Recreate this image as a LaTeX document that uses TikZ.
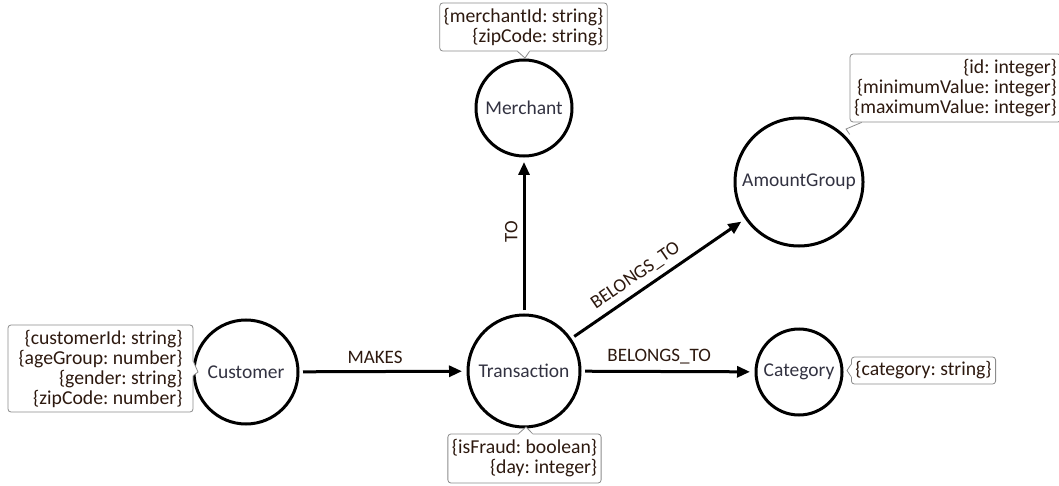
\documentclass[tikz,border=0pt]{standalone}
\usepackage{fontspec}
\setmainfont{Carlito}
\usetikzlibrary{arrows.meta}
\definecolor{proptext}{RGB}{45,25,15}
\definecolor{nodetext}{RGB}{50,50,65}
\definecolor{boxline}{RGB}{140,140,140}
\begin{document}
\frenchspacing
\begin{tikzpicture}[x=1pt,y=-1pt,
  entity/.style={circle, draw=black, line width=3pt, minimum size=#1, inner sep=0pt, outer sep=0pt,
    text=nodetext, font=\fontsize{19.5}{20}\selectfont},
  propbox/.style={draw=boxline, line width=0.8pt, rounded corners=3pt, fill=white, align=right,
    inner xsep=4pt, inner ysep=0pt, text=proptext, font=\fontsize{19.7}{20}\selectfont},
  edge/.style={line width=3pt, -{Triangle[length=13pt,width=11pt]}, shorten <=5pt, shorten >=6pt},
  elabel/.style={text=proptext, font=\fontsize{19}{20}\selectfont, inner sep=1pt},
  pointer/.style={draw=boxline, line width=0.8pt}
]
\useasboundingbox (0,0) rectangle (1059,486);

% entities
\node[entity=96pt]  (m) at (524,108) {Merchant};
\node[entity=128pt] (a) at (799,182) {AmountGroup};
\node[entity=104pt] (c) at (246,372) {Customer};
\node[entity=112pt] (t) at (524,371) {Transaction};
\node[entity=86pt]  (k) at (799,372) {Category};

% edges
\draw[edge] (c) -- (t) node[elabel, midway, above=5pt, xshift=-8pt] {MAKES};
\draw[edge] (t) -- (k) node[elabel, pos=0.45, above=5pt] {BELONGS\_TO};
\draw[edge] (t) -- (m) node[elabel, midway, sloped, above=4pt, xshift=4pt] {TO};
\draw[edge] (t) -- (a) node[elabel, pos=0.42, sloped, above=5pt] {BELONGS\_TO};

% property boxes
\node[propbox, minimum width=167pt, minimum height=48pt] (mb) at (523.5,27) {\{merchantId: string\}\\\{zipCode: string\}};
\node[propbox, minimum width=205pt, minimum height=68pt] (ab) at (955.5,88) {\{id: integer\}\\\{minimumValue: integer\}\\\{maximumValue: integer\}};
\node[propbox, minimum width=185pt, minimum height=87pt] (cb) at (100.5,368.5) {\{customerId: string\}\\\{ageGroup: number\}\\\{gender: string\}\\\{zipCode: number\}};
\node[propbox, minimum width=153pt, minimum height=49pt] (tb) at (524.5,458.5) {\{isFraud: boolean\}\\\{day: integer\}};
\node[propbox, minimum width=143pt, minimum height=27pt] (kb) at (923.5,370.5) {\{category: string\}};

% callout pointers
\coordinate (mtip) at (525,58);
\fill[white] ([xshift=-6pt,yshift=1.2pt]mb.south) -- ([xshift=-6pt]mb.south) -- (mtip) -- ([xshift=6pt]mb.south) -- ([xshift=6pt,yshift=1.2pt]mb.south) -- cycle;
\draw[pointer] ([xshift=-6pt]mb.south) -- (mtip) -- ([xshift=6pt]mb.south);

\coordinate (atip) at (846,129);
\fill[white] ([xshift=1.5pt,yshift=-12pt]ab.south west) -- ([yshift=-12pt]ab.south west) -- (atip) -- ([xshift=12pt]ab.south west) -- ([xshift=12pt,yshift=-1.5pt]ab.south west) -- ([xshift=2pt,yshift=-2pt]ab.south west) -- cycle;
\draw[pointer] ([yshift=-12pt]ab.south west) -- (atip) -- ([xshift=12pt]ab.south west);

\coordinate (ctip) at (198,372);
\fill[white] ([yshift=7pt,xshift=-1.2pt]cb.east) -- ([yshift=7pt]cb.east) -- (ctip) -- ([yshift=-7pt]cb.east) -- ([yshift=-7pt,xshift=-1.2pt]cb.east) -- cycle;
\draw[pointer] ([yshift=7pt]cb.east) -- (ctip) -- ([yshift=-7pt]cb.east);

\coordinate (ttip) at (526,427);
\fill[white] ([xshift=-6pt,yshift=-1.2pt]tb.north) -- ([xshift=-6pt]tb.north) -- (ttip) -- ([xshift=8pt]tb.north) -- ([xshift=8pt,yshift=-1.2pt]tb.north) -- cycle;
\draw[pointer] ([xshift=-6pt]tb.north) -- (ttip) -- ([xshift=8pt]tb.north);

\coordinate (ktip) at (847,370.5);
\fill[white] ([yshift=6pt,xshift=1.2pt]kb.west) -- ([yshift=6pt]kb.west) -- (ktip) -- ([yshift=-6pt]kb.west) -- ([yshift=-6pt,xshift=1.2pt]kb.west) -- cycle;
\draw[pointer] ([yshift=6pt]kb.west) -- (ktip) -- ([yshift=-6pt]kb.west);
\end{tikzpicture}
\end{document}
